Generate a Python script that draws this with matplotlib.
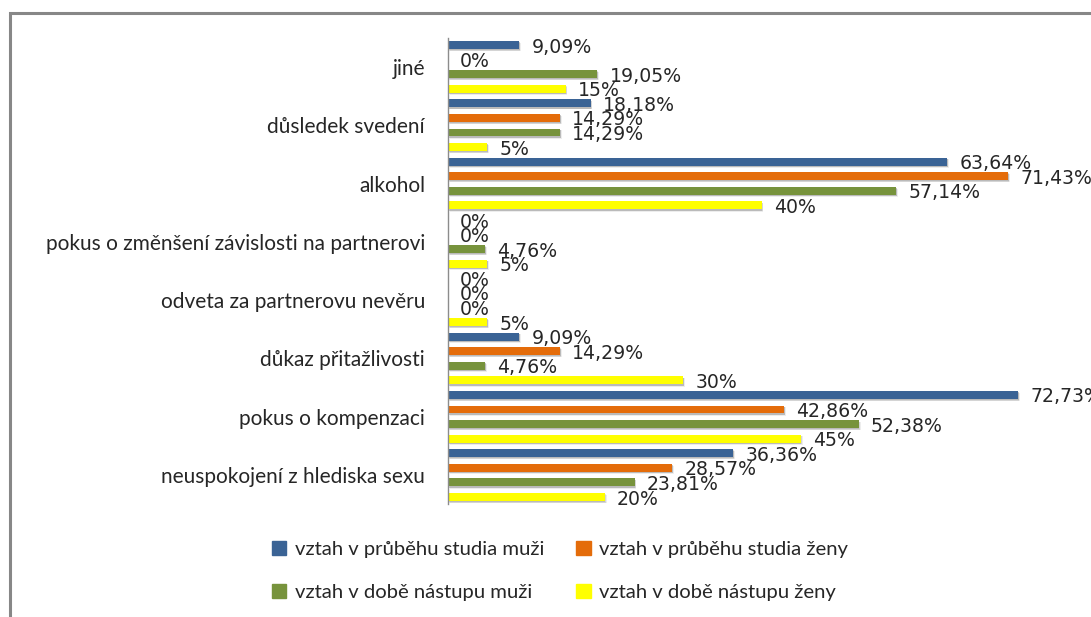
import matplotlib
matplotlib.use("Agg")
import matplotlib.pyplot as plt
from matplotlib.patches import Rectangle
import numpy as np

categories = [
    "neuspokojení z hlediska sexu",
    "pokus o kompenzaci",
    "důkaz přitažlivosti",
    "odveta za partnerovu nevěru",
    "pokus o změnšení závislosti na partnerovi",
    "alkohol",
    "důsledek svedení",
    "jiné",
]
series_names = [
    "vztah v průběhu studia muži",
    "vztah v průběhu studia ženy",
    "vztah v době nástupu muži",
    "vztah v době nástupu ženy",
]
studium_muzi = [36.36, 72.73, 9.09, 0, 0, 63.64, 18.18, 9.09]
studium_zeny = [28.57, 42.86, 14.29, 0, 0, 71.43, 14.29, 0]
nastup_muzi = [23.81, 52.38, 4.76, 0, 4.76, 57.14, 14.29, 19.05]
nastup_zeny = [20, 45, 30, 5, 5, 40, 5, 15]
colors = ["#3A6395", "#E46C0A", "#77933C", "#FFFF00"]

series = [studium_muzi, studium_zeny, nastup_muzi, nastup_zeny]
offsets = [0.375, 0.125, -0.125, -0.375]
bar_h = 0.135

W, H = 1091, 617
fig = plt.figure(figsize=(W / 100, H / 100), dpi=100)
fig.patch.set_facecolor("white")

# outer chart frame
fig.add_artist(Rectangle((10 / W, -0.05), 1.2, 1 - 13 / H + 0.05,
                         transform=fig.transFigure, fill=False,
                         edgecolor="#878787", linewidth=2.2, clip_on=False))

ax = fig.add_axes([448 / W, 1 - 504.3 / H, (W - 448) / W, (504.3 - 37.7) / H])
y = np.arange(len(categories))

for vals, off, col in zip(series, offsets, colors):
    pos = y + off
    # soft drop shadow
    for k, a in [(0.9, 0.07), (0.55, 0.10), (0.3, 0.12)]:
        ax.barh(pos - 0.014 - 0.022 * k, [v if v > 0 else 0 for v in vals],
                height=bar_h + 0.01 * k, left=0.25 * k, color="black",
                alpha=a, linewidth=0, zorder=1)
    ax.barh(pos, vals, height=bar_h, color=col, linewidth=0, zorder=2)
    for p, v in zip(pos, vals):
        txt = ("%.2f" % v).rstrip("0").rstrip(".").replace(".", ",") + "%"
        ax.text(v + 1.55, p - 0.035, txt, va="center", ha="left",
                fontsize=13.6, color="#262626", family="DejaVu Sans",
                clip_on=False, zorder=3)

ax.set_xlim(0, 82)
ax.set_ylim(-0.5, len(categories) - 0.5)
ax.set_yticks(y)
ax.set_yticklabels(categories, family="Lato", fontsize=15, color="#262626")
ax.tick_params(axis="y", length=0, pad=16.5)
ax.set_xticks([])
for s in ["top", "right", "bottom"]:
    ax.spines[s].set_visible(False)
ax.spines["left"].set_color("#8C8C8C")
ax.spines["left"].set_linewidth(1)
ax.patch.set_alpha(0)

handles = [Rectangle((0, 0), 1, 1, color=c) for c in colors]
order = [0, 2, 1, 3]
fig.legend([handles[i] for i in order], [series_names[i] for i in order],
           ncol=2, frameon=False,
           loc="center", bbox_to_anchor=(560 / W, 1 - 571 / H),
           prop={"family": "Lato", "size": 14.6}, labelcolor="#262626",
           handlelength=0.7, handleheight=0.7, handletextpad=0.4,
           columnspacing=1.6, labelspacing=1.25)

fig.savefig("out.png", dpi=100)
